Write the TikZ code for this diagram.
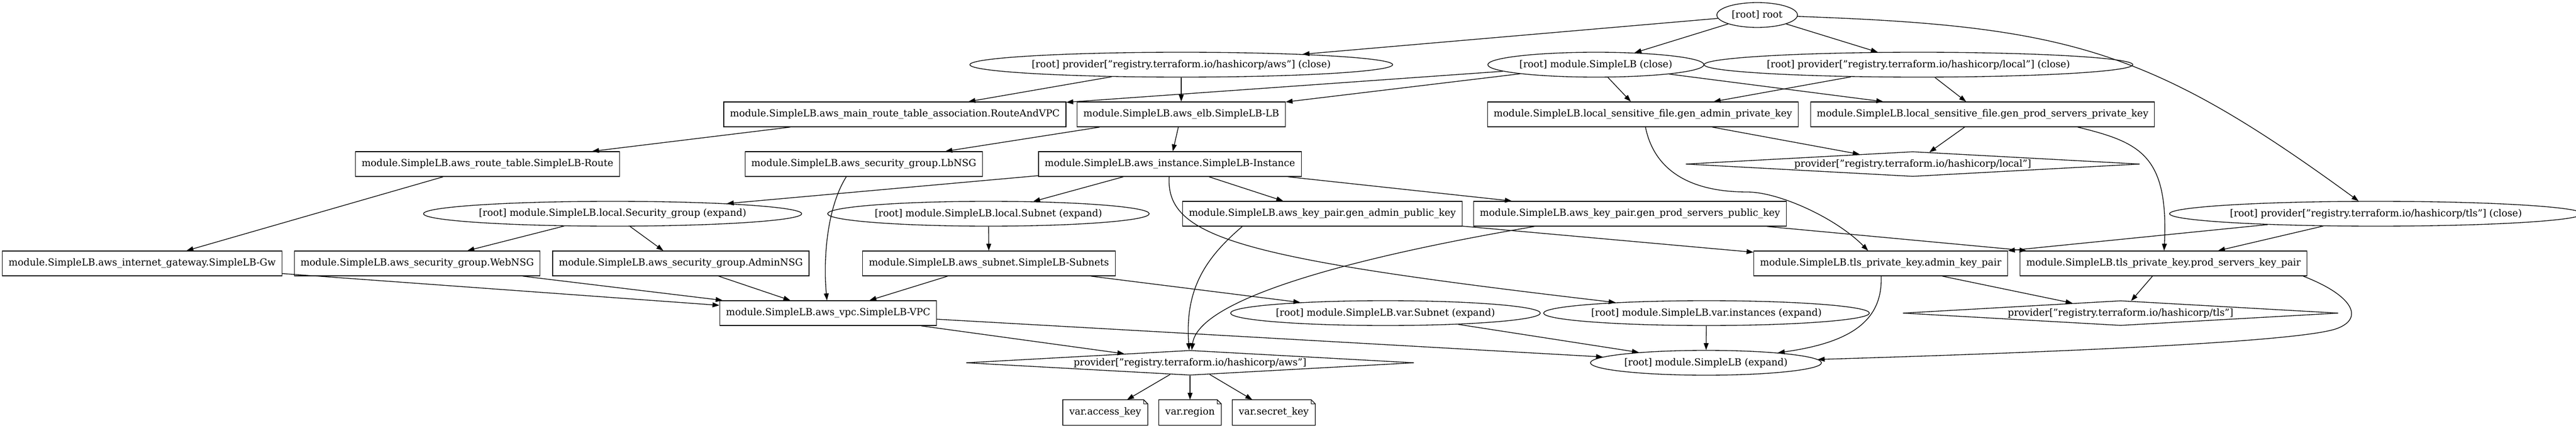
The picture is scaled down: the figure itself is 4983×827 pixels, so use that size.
\documentclass[tikz,border=0pt]{standalone}
\usepackage{fontspec}
\setmainfont{DejaVu Serif}
\usetikzlibrary{arrows.meta,shapes.geometric,calc}
\begin{document}
\begin{tikzpicture}[x=0.75pt,y=-0.75pt,
  every node/.style={font=\fontsize{14pt}{16.8pt}\selectfont, line width=1pt},
  boxn/.style={draw, rectangle, minimum height=36pt, inner xsep=9pt, inner ysep=0pt},
  elln/.style={draw, ellipse, minimum height=36pt, inner sep=0pt, minimum width=#1},
  diam/.style={draw, diamond, aspect=18, inner sep=0pt, minimum height=36pt, minimum width=#1},
  notebox/.style={rectangle, minimum height=36pt, inner xsep=9pt, inner ysep=0pt},
  conn/.style={line width=1pt, -{Triangle[length=10pt,width=7pt]}}
]
\fill[white] (0,0) rectangle (4983,827);
\useasboundingbox (0,0) rectangle (4983,827);

% rank 1
\node[elln=117pt] (root) at (3399,29) {[root] root};
% rank 2
\node[elln=582pt] (awsc) at (2285,125) {[root] provider["registry.terraform.io/hashicorp/aws"] (close)};
\node[elln=310.5pt] (slbc) at (3087,125) {[root] module.SimpleLB (close)};
\node[elln=592pt] (locc) at (3711,125) {[root] provider["registry.terraform.io/hashicorp/local"] (close)};
% rank 3
\node[boxn] (mrt) at (1731,221) {module.SimpleLB.aws\_main\_route\_table\_association.RouteAndVPC};
\node[boxn] (elb) at (2285,221) {module.SimpleLB.aws\_elb.SimpleLB-LB};
\node[boxn] (gapriv) at (3178,221) {module.SimpleLB.local\_sensitive\_file.gen\_admin\_private\_key};
\node[boxn] (gppriv) at (3835,221) {module.SimpleLB.local\_sensitive\_file.gen\_prod\_servers\_private\_key};
% rank 4
\node[boxn] (rt) at (943,317) {module.SimpleLB.aws\_route\_table.SimpleLB-Route};
\node[boxn] (lbnsg) at (1671,317) {module.SimpleLB.aws\_security\_group.LbNSG};
\node[boxn] (inst) at (2263,317) {module.SimpleLB.aws\_instance.SimpleLB-Instance};
\node[diam=659pt] (locp) at (3700,317) {provider["registry.terraform.io/hashicorp/local"]};
% rank 5
\node[elln=526pt] (sgx) at (1185,413) {[root] module.SimpleLB.local.Security\_group (expand)};
\node[elln=450pt] (lsub) at (1912,413) {[root] module.SimpleLB.local.Subnet (expand)};
\node[boxn] (gapub) at (2558,413) {module.SimpleLB.aws\_key\_pair.gen\_admin\_public\_key};
\node[boxn] (gppub) at (3153,413) {module.SimpleLB.aws\_key\_pair.gen\_prod\_servers\_public\_key};
\node[elln=572pt] (tlsc) at (4596,413) {[root] provider["registry.terraform.io/hashicorp/tls"] (close)};
% rank 6
\node[boxn] (igw) at (275,509) {module.SimpleLB.aws\_internet\_gateway.SimpleLB-Gw};
\node[boxn] (web) at (807,509) {module.SimpleLB.aws\_security\_group.WebNSG};
\node[boxn] (adm) at (1317,509) {module.SimpleLB.aws\_security\_group.AdminNSG};
\node[boxn] (sub) at (1913,509) {module.SimpleLB.aws\_subnet.SimpleLB-Subnets};
\node[boxn] (tlsa) at (3638,509) {module.SimpleLB.tls\_private\_key.admin\_key\_pair};
\node[boxn] (tlsp) at (4185,509) {module.SimpleLB.tls\_private\_key.prod\_servers\_key\_pair};
% rank 7
\node[boxn] (vpc) at (1602,605) {module.SimpleLB.aws\_vpc.SimpleLB-VPC};
\node[elln=436pt] (vsub) at (2680,605) {[root] module.SimpleLB.var.Subnet (expand)};
\node[elln=456pt] (vinst) at (3301,605) {[root] module.SimpleLB.var.instances (expand)};
\node[diam=632pt] (tlsd) at (4102,605) {provider["registry.terraform.io/hashicorp/tls"]};
% rank 8
\node[diam=650pt] (awsd) at (2302,701) {provider["registry.terraform.io/hashicorp/aws"]};
\node[elln=331pt] (slbx) at (3300,701) {[root] module.SimpleLB (expand)};
% rank 9
\node[notebox] (ak) at (2138,797) {var.access\_key};
\node[notebox] (rg) at (2302,797) {var.region};
\node[notebox] (sk) at (2464,797) {var.secret\_key};
\foreach \n in {ak,rg,sk} {
  \draw[line width=1pt] (\n.north west) -- ($(\n.north east)+(-8,0)$) -- ($(\n.north east)+(0,8)$) -- (\n.south east) -- (\n.south west) -- cycle;
  \draw[line width=1pt] ($(\n.north east)+(-8,0)$) -- ($(\n.north east)+(-8,8)$) -- ($(\n.north east)+(0,8)$);
}

% edges
\draw[conn] (root) -- (awsc);
\draw[conn] (root) -- (slbc);
\draw[conn] (root) -- (locc);
\draw[conn] (root) .. controls (4000,50) and (4160,95) .. (tlsc);
\draw[conn] (awsc) -- (mrt);
\draw[conn] (awsc) -- (elb);
\draw[conn] (slbc) -- (mrt);
\draw[conn] (slbc) -- (elb);
\draw[conn] (slbc) -- (gapriv);
\draw[conn] (slbc) -- (gppriv);
\draw[conn] (locc) -- (gapriv);
\draw[conn] (locc) -- (gppriv);
\draw[conn] (mrt) -- (rt);
\draw[conn] (elb) -- (lbnsg);
\draw[conn] (elb) -- (inst);
\draw[conn] (gapriv) -- (locp);
\draw[conn] (gppriv) -- (locp);
\draw[conn] (gapriv) .. controls (3200,330) and (3270,371) .. (3380,371) .. controls (3440,371) and (3550,420) .. (tlsa);
\draw[conn] ($(gppriv.south)+(184,0)$) .. controls (4140,275) and (4195,300) .. (tlsp);
\draw[conn] (rt) -- (igw);
\draw[conn] ($(lbnsg.south)+(-34,0)$) .. controls (1600,400) and (1592,500) .. (vpc);
\draw[conn] (inst) -- (sgx);
\draw[conn] (inst) -- (lsub);
\draw[conn] (inst) -- (gapub);
\draw[conn] (inst) -- (gppub);
\draw[conn] (inst) .. controls (2255,460) and (2400,500) .. (vinst);
\draw[conn] (sgx) -- (web);
\draw[conn] (sgx) -- (adm);
\draw[conn] (lsub) -- (sub);
\draw[conn] ($(gapub.south)+(-155,0)$) .. controls (2330,500) and (2292,560) .. (awsd);
\draw[conn] ($(gppub.south)+(-185,0)$) .. controls (2600,500) and (2318,580) .. (awsd);
\draw[conn] (gapub) -- (tlsa);
\draw[conn] (gppub) -- (tlsp);
\draw[conn] (tlsc) -- (tlsa);
\draw[conn] (tlsc) -- (tlsp);
\draw[conn] (igw) -- (vpc);
\draw[conn] (web) -- (vpc);
\draw[conn] (adm) -- (vpc);
\draw[conn] (sub) -- (vpc);
\draw[conn] (sub) -- (vsub);
\draw[conn] (vpc) -- (awsd);
\draw[conn] (vpc) -- (slbx);
\draw[conn] (vsub) -- (slbx);
\draw[conn] (vinst) -- (slbx);
\draw[conn] (tlsa) -- (tlsd);
\draw[conn] (tlsp) -- (tlsd);
\draw[conn] (tlsa) .. controls (3642,620) and (3580,662) .. (slbx);
\draw[conn] ($(tlsp.south east)+(-8,0)$) .. controls (4550,570) and (4575,615) .. (4520,635) .. controls (4450,660) and (4000,680) .. (slbx);
\draw[conn] (awsd) -- (ak);
\draw[conn] (awsd) -- (rg);
\draw[conn] (awsd) -- (sk);
\end{tikzpicture}
\end{document}
